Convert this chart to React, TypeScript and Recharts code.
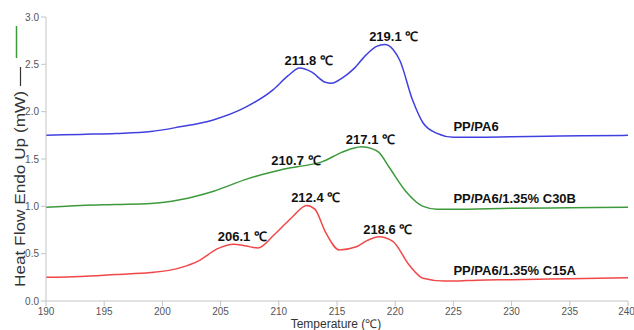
import React from "react";
import { LineChart, Line, XAxis, YAxis } from "recharts";

// DSC heating scans, temperature in °C, heat flow in mW
const ppTemp = [190, 193, 196, 199, 201.5, 204.3, 207.2, 209.5, 210.8, 211.8, 212.8, 214.0, 214.5, 215.5, 216.5, 217.5, 218.4, 219.1, 219.8, 220.4, 221.5, 222.4, 223.6, 225, 227, 230, 233, 236, 240];
const ppHeat = [1.75, 1.76, 1.77, 1.79, 1.84, 1.91, 2.05, 2.23, 2.38, 2.46, 2.42, 2.31, 2.30, 2.36, 2.46, 2.60, 2.69, 2.71, 2.66, 2.54, 2.12, 1.88, 1.77, 1.73, 1.73, 1.735, 1.74, 1.745, 1.75];

const c30bTemp = [190, 193, 196, 199, 201.5, 204.4, 207.3, 209, 210.7, 212.2, 213.7, 215.4, 216.3, 217.1, 218.0, 218.6, 219.5, 220.9, 222.4, 223.6, 225, 230, 235, 240];
const c30bHeat = [0.99, 1.01, 1.02, 1.03, 1.07, 1.16, 1.29, 1.35, 1.40, 1.43, 1.47, 1.57, 1.61, 1.63, 1.61, 1.57, 1.41, 1.16, 1.0, 0.97, 0.97, 0.98, 0.985, 0.99];

const c15aTemp = [190, 193, 196, 199, 201.5, 203.2, 204.7, 206.1, 207.2, 208.2, 209.6, 211.1, 212.4, 213.1, 214.0, 215.2, 216.6, 217.6, 218.6, 219.8, 221.2, 222.4, 224.2, 225, 227, 230, 235, 240];
const c15aHeat = [0.25, 0.26, 0.28, 0.30, 0.35, 0.43, 0.55, 0.60, 0.58, 0.56, 0.70, 0.88, 1.01, 0.97, 0.73, 0.54, 0.57, 0.64, 0.68, 0.63, 0.38, 0.24, 0.21, 0.21, 0.22, 0.225, 0.235, 0.245];

const ppPeaks = [211.8, 219.1];
const c30bPeaks = [210.7, 217.1];
const c15aPeaks = [206.1, 212.4, 218.6];

const xTicks = [190, 195, 200, 205, 210, 215, 220, 225, 230, 235, 240];
const yTicks = [0, 0.5, 1, 1.5, 2, 2.5, 3];
const NAME_AT = 225;

const toPoints = (temps: number[], heats: number[]) =>
  temps.map((temp, i) => ({ temp, heat: heats[i] }));

// peak temperatures above the curve, sample name on the flat tail
const makeLabel = (temps: number[], peaks: number[], name: string) => (props: any) => {
  const x = props.x ?? props.viewBox?.x;
  const y = props.y ?? props.viewBox?.y;
  const t = temps[props.index];
  if (peaks.includes(t)) {
    return (
      <text x={x + 9} y={y - 3} textAnchor="middle" fontSize={13} fontWeight="bold" fill="#111">
        {t.toFixed(1)} ℃
      </text>
    );
  }
  if (t === NAME_AT) {
    return (
      <text x={x} y={y - 6} textAnchor="start" fontSize={13} fontWeight="bold" fill="#111">
        {name}
      </text>
    );
  }
  return null;
};

const YTitle = () => (
  <g>
    <text
      x={20}
      y={189}
      transform="rotate(-90 20 189)"
      textAnchor="middle"
      dominantBaseline="central"
      fontSize={14}
      textLength={196}
      lengthAdjust="spacingAndGlyphs"
      fill="#333"
    >
      Heat Flow Endo Up (mW)
    </text>
    <line x1={20.5} x2={20.5} y1={67} y2={86} stroke="#333" strokeWidth={1.2} />
    <line x1={16.5} x2={16.5} y1={26} y2={58} stroke="#3c9a3c" strokeWidth={1.5} />
  </g>
);

const XTitle = () => (
  <text x={336} y={327.5} textAnchor="middle" fontSize={12} fill="#333">
    Temperature (℃)
  </text>
);

const axisStroke = "#c4c4c4";

export default function App() {
  return (
    <div style={{ position: "absolute", left: 0, top: 0, fontFamily: "'Liberation Sans', Arial, sans-serif", background: "#fff" }}>
      <LineChart width={634} height={330} margin={{ top: 17, right: 6, left: 0, bottom: 0 }}>
        <XAxis
          dataKey="temp"
          type="number"
          domain={[190, 240]}
          ticks={xTicks}
          allowDataOverflow
          height={29}
          tickSize={5}
          stroke={axisStroke}
          tick={{ fontSize: 10, fill: "#555" }}
          label={<XTitle />}
        />
        <YAxis
          type="number"
          domain={[0, 3]}
          ticks={yTicks}
          width={46}
          tickSize={5}
          stroke={axisStroke}
          tick={{ fontSize: 10, fill: "#555" }}
          tickFormatter={(v: number) => v.toFixed(1)}
          label={<YTitle />}
        />
        <Line
          data={toPoints(ppTemp, ppHeat)}
          dataKey="heat"
          type="monotone"
          stroke="#4040e0"
          strokeWidth={1.5}
          dot={false}
          isAnimationActive={false}
          label={makeLabel(ppTemp, ppPeaks, "PP/PA6")}
        />
        <Line
          data={toPoints(c30bTemp, c30bHeat)}
          dataKey="heat"
          type="monotone"
          stroke="#3c9a3c"
          strokeWidth={1.5}
          dot={false}
          isAnimationActive={false}
          label={makeLabel(c30bTemp, c30bPeaks, "PP/PA6/1.35% C30B")}
        />
        <Line
          data={toPoints(c15aTemp, c15aHeat)}
          dataKey="heat"
          type="monotone"
          stroke="#f04848"
          strokeWidth={1.5}
          dot={false}
          isAnimationActive={false}
          label={makeLabel(c15aTemp, c15aPeaks, "PP/PA6/1.35% C15A")}
        />
      </LineChart>
    </div>
  );
}
